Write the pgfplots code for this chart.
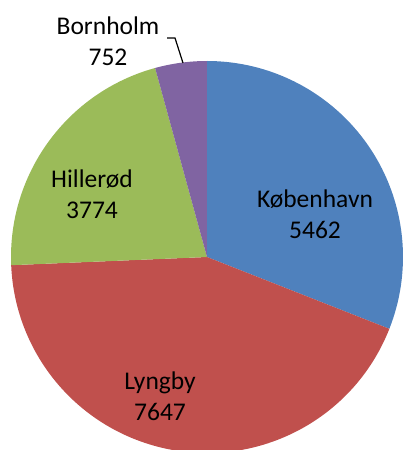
\documentclass[border=0pt]{standalone}
\usepackage{pgfplots}
\pgfplotsset{compat=1.18}
\usepackage{fontspec}
\setmainfont{Carlito}
\definecolor{kbh}{HTML}{4F81BD}
\definecolor{lyn}{HTML}{C0504D}
\definecolor{hil}{HTML}{9BBB59}
\definecolor{bor}{HTML}{8064A2}
% slice values / colours, clockwise from 12 o'clock
\newcommand\slices{5462/kbh, 7647/lyn, 3774/hil, 752/bor}
\begin{document}
\begin{tikzpicture}
\path[use as bounding box] (0,0) rectangle (404bp,450bp);
\begin{axis}[
    x=1bp, y=1bp, anchor=origin, at={(0,0)},
    xmin=0, xmax=404, ymin=0, ymax=450,
    hide axis, clip=true,
    nodes={font=\fontsize{25.5bp}{31.5bp}\selectfont, align=center, text=black},
]
% sum in thousands to stay inside pgfmath's range
\gdef\total{0}
\foreach \v/\c in \slices {\pgfmathparse{\total+\v/1000}\xdef\total{\pgfmathresult}}
\gdef\start{90}
\foreach \v/\c in \slices {
    \pgfmathsetmacro\sweep{\v/1000/\total*360}
    \pgfmathsetmacro\stop{\start-\sweep}
    \edef\temp{\noexpand\fill[\c] (axis cs:207,193) -- ++(\start:196bp)
        arc[start angle=\start, end angle=\stop, radius=196bp] -- cycle;}
    \temp
    \xdef\start{\stop}
}
\node at (axis cs:315,236) {København\\5462};
\node at (axis cs:160,54) {Lyngby\\7647};
\node at (axis cs:92,256) {Hillerød\\3774};
\node at (axis cs:108,409) {Bornholm\\752};
\draw[line width=1.2bp] (axis cs:167,412) -- (axis cs:175,412) -- (axis cs:183,387);
\end{axis}
\end{tikzpicture}
\end{document}
